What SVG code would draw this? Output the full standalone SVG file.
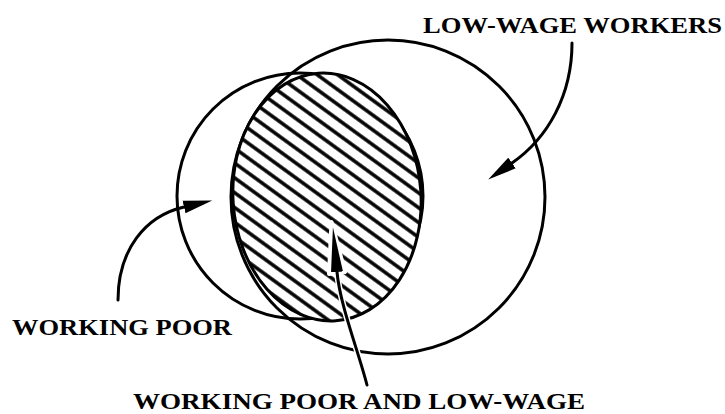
<svg xmlns="http://www.w3.org/2000/svg" width="725" height="414" viewBox="0 0 725 414">
  <style>
    .ring { fill: none; stroke: #000; stroke-width: 3; }
    .conn { fill: none; stroke: #000; stroke-width: 3; stroke-linecap: round; }
    .lbl { font-family: "Liberation Serif", "DejaVu Serif", serif; font-size: 23px; font-weight: bold; fill: #000; }
  </style>
  <defs>
    <pattern id="hatch" patternUnits="userSpaceOnUse" width="40" height="12" patternTransform="rotate(36)">
      <line x1="-5" y1="6" x2="45" y2="6" stroke="#000" stroke-width="3.4"/>
    </pattern>
    <clipPath id="overlapClip">
      <ellipse cx="327" cy="197" rx="94" ry="124" transform="rotate(-4 327 197)"/>
    </clipPath>
    <marker id="headShort" markerUnits="userSpaceOnUse" markerWidth="30" markerHeight="14" refX="0" refY="7" orient="auto">
      <path d="M0,0.5 L29,7 L0,13.5 Z" fill="#000"/>
    </marker>
    <marker id="headLong" markerUnits="userSpaceOnUse" markerWidth="47" markerHeight="14" refX="0" refY="7" orient="auto">
      <path d="M0,1 L45,7 L0,13 Z" fill="#000"/>
    </marker>
  </defs>
  <rect width="725" height="414" fill="#fff"/>

  <g id="node-low-wage-workers">
    <circle class="ring" cx="388" cy="197" r="157"/>
  </g>

  <g id="node-working-poor">
    <circle class="ring" cx="300" cy="196" r="123"/>
  </g>

  <g id="node-overlap">
    <rect x="220" y="60" width="215" height="275" fill="#fff" clip-path="url(#overlapClip)"/>
    <rect x="220" y="60" width="215" height="275" fill="url(#hatch)" clip-path="url(#overlapClip)"/>
    <ellipse class="ring" cx="327" cy="197" rx="94" ry="124" transform="rotate(-4 327 197)"/>
  </g>

  <g id="connectors">
    <path d="M367,385 C358,350 340,305 337,272" fill="none" stroke="#fff" stroke-width="6"/>
    <polygon points="331.5,222 345,272 329,274" fill="#fff" stroke="#fff" stroke-width="4" stroke-linejoin="round"/>
    <path class="conn" d="M572,43 C572,95 548,138 512,163" marker-end="url(#headShort)"/>
    <path class="conn" d="M118,300 C118,250 145,216 184,207" marker-end="url(#headShort)"/>
    <path class="conn" d="M367,385 C358,350 340,305 337,272" marker-end="url(#headLong)"/>
  </g>

  <g id="labels">
    <text class="lbl" x="423" y="33" textLength="299" lengthAdjust="spacingAndGlyphs">LOW-WAGE WORKERS</text>
    <text class="lbl" x="12" y="335" textLength="220" lengthAdjust="spacingAndGlyphs">WORKING POOR</text>
    <text class="lbl" x="133" y="409" textLength="452" lengthAdjust="spacingAndGlyphs">WORKING POOR AND LOW-WAGE</text>
  </g>
</svg>
